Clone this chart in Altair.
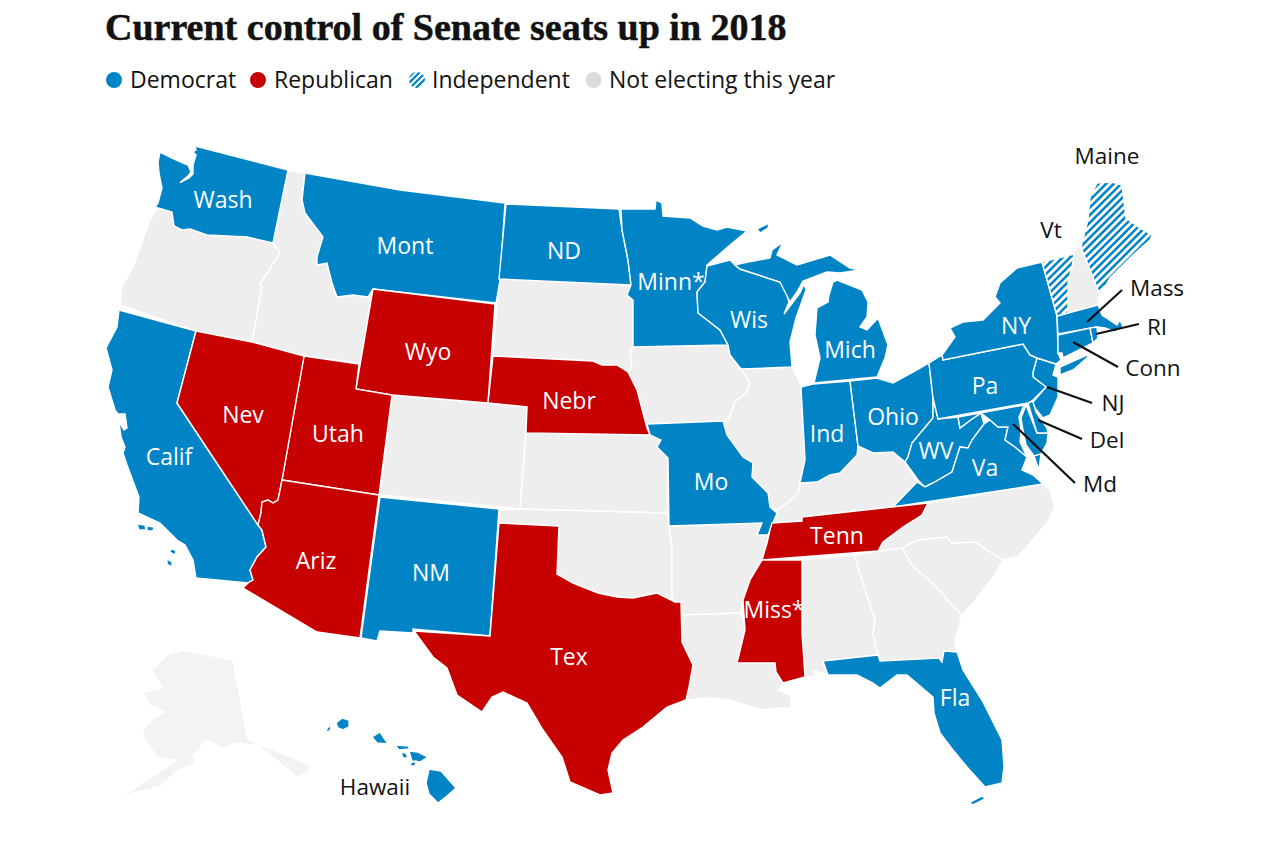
import math
import altair as alt

TITLE = "Current control of Senate seats up in 2018"
BLUE, RED, GREY, ALASKA = "#0084c6", "#c70000", "#eeeeee", "#f3f3f3"
INK = "#121212"

# State outlines (x, y)
WA = [[(195,146),(288,170),(273,243),(247,237),(227,236),(207,235),(190,229),(182,230),(174,226),(172,212),(158,208),(155,207),(158,203),(162,188),(159,173),(158,162),(160,152),(172,158),(183,163),(188,165),(191,172),(188,176),(180,182.5),(189,178),(193,174),(193,165),(196,155),(193,152),(196,150)]]
OR = [[(157,208),(172,212),(174,226),(182,230),(190,229),(207,235),(227,236),(247,237),(273,243),(280,253),(260,284),(262,287),(252,342),(195,331),(120,305),(122,287),(133,267),(150,220)]]
ID = [[(288,170),(305,173),(302,200),(305,213),(323,237),(317,257),(317,265),(327,263),(332,283),(337,297),(353,295),(368,297),(373,289),(360,363),(304,356),(252,342),(262,287),(260,284),(280,253),(273,243)]]
MT = [[(305,173),(400,190),(505,203),(500,280),(496,303),(373,289),(368,297),(353,295),(337,297),(332,283),(327,263),(317,265),(317,257),(323,237),(305,213),(302,200)]]
WY = [[(373,289),(495,304),(488,403),(392,395),(356,389)]]
UT = [[(304,356),(359,364),(356,389),(392,395),(379,495),(282,480)]]
NV = [[(196,331),(252,342),(304,356),(282,480),(278,500),(273,503),(268,500),(262,502),(261,513),(258,525),(177,403)]]
CA = [[(119,310),(196,331),(177,403),(258,525),(262,530),(266,547),(257,557),(250,570),(253,580),(248,583),(196,578),(193,560),(185,545),(177,540),(160,523),(138,513),(139,497),(127,465),(123,453),(125,447),(121,437),(119,422),(124,430),(127,428),(125,414),(118,414),(115,410),(108,387),(112,370),(106,348),(117,327)],
      [(137,524),(145,525),(146,530),(139,530)],[(147,526),(154,527),(153,531),(147,531)],[(171,548),(176,551),(175,555),(170,552)],[(167,559),(172,562),(172,567),(167,564)]]
AZ = [[(282,480),(379,495),(360,638),(317,632),(243,588),(248,583),(253,580),(250,570),(257,557),(266,547),(262,530),(258,525),(261,513),(262,502),(268,500),(273,503),(278,500)]]
NM = [[(380,497),(499,509),(490,636),(413,629),(413,633),(380,631),(377,641),(361,638)]]
CO = [[(392,395),(488,403),(527,407),(526,433),(520,509),(380,495)]]
TX = [[(499,523),(559,526),(557,574),(573,583),(598,593),(617,597),(633,598),(657,593),(675,602),(681,602),(682,642),(693,665),(689,687),(686,700),(667,707),(643,727),(623,740),(612,753),(608,770),(613,793),(600,795),(570,782),(562,757),(543,730),(527,703),(503,692),(492,697),(482,712),(457,695),(447,668),(433,657),(414,631),(490,636)]]
NE = [[(493,356),(593,361),(602,365),(617,365),(628,372),(637,390),(647,428),(650,435),(526,433),(527,407),(488,403)]]
ND = [[(506,204),(619,209),(622,230),(628,260),(631,285),(499,279)]]
SD = [[(499,279),(631,285),(627,295),(633,300),(633,347),(630,350),(632,367),(628,372),(617,365),(602,365),(593,361),(493,356)]]
MN = [[(621,209),(655,209),(656,200),(662,203),(663,216),(690,218),(703,226),(717,230),(727,227),(747,231),(730,245),(707,265),(705,282),(697,292),(698,313),(720,330),(728,345),(633,347),(633,300),(627,295),(631,285),(628,260),(622,230)],
      [(757,229),(769,223),(768,228),(760,233)]]
WI = [[(707,266),(730,260),(735,265),(740,269),(780,282),(787,295),(789,302),(784,314),(800,293),(804,284),(806,290),(796,318),(790,342),(792,367),(741,369),(730,355),(728,345),(720,330),(698,313),(697,292),(705,282)]]
MI = [[(735,265),(743,263),(770,258),(772,250),(783,242),(777,255),(797,265),(830,255),(850,268),(860,270),(840,273),(827,272),(803,281),(797,292),(790,302),(780,282),(740,269)],
      [(837,280),(862,290),(868,302),(867,317),(860,327),(867,330),(878,318),(888,345),(885,358),(877,377),(814,383),(820,358),(815,335),(817,308),(828,302),(829,295),(833,282)]]
IN = [[(801,387),(813,384),(850,381),(858,446),(857,455),(840,473),(830,475),(817,482),(800,483),(805,460)]]
OH = [[(850,381),(877,378),(893,383),(917,370),(929,363),(933,398),(933,418),(917,437),(912,443),(908,457),(905,462),(893,452),(873,453),(858,446)]]
WV = [[(933,398),(938,419),(958,417),(960,428),(972,419),(981,413),(984,424),(972,440),(968,448),(960,447),(952,472),(933,483),(925,487),(918,480),(905,462),(908,457),(912,443),(917,437),(933,418)]]
VA = [[(893,507),(917,482),(925,487),(933,483),(952,472),(960,447),(968,448),(972,440),(984,424),(990,420),(998,427),(1008,427),(1005,440),(1015,447),(1027,457),(1022,470),(1033,475),(1043,484)],
      [(1047,444),(1041,454),(1039,470),(1034,456)]]
MD = [[(958,417),(1024,405),(1019,417),(1021,430),(1020,442),(1027,457),(1015,447),(1005,440),(1008,427),(998,427),(990,420),(981,413),(972,419),(960,428)],
      [(1026,405),(1037,433),(1048,433),(1047,443),(1041,454),(1034,456),(1026,445),(1023,430),(1021,418)]]
DE = [[(1028,403),(1033,401),(1036,412),(1047,428),(1048,433),(1037,433)]]
NJ = [[(1037,358),(1056,364),(1053,375),(1058,377),(1058,397),(1050,415),(1043,418),(1035,408),(1033,402),(1046,387),(1033,377),(1033,372)]]
PA = [[(929,363),(942,355),(943,360),(1023,344),(1030,355),(1037,358),(1033,372),(1033,377),(1046,387),(1033,400),(1028,403),(938,419),(933,398)]]
NY = [[(1042,262),(1057,316),(1058,353),(1061,360),(1056,364),(1037,358),(1030,355),(1023,344),(943,360),(942,355),(955,337),(950,328),(963,322),(983,320),(1000,303),(995,297),(1000,283),(1017,268)],
      [(1060,367),(1087,355),(1088,357),(1073,370),(1060,375)]]
VT = [[(1042,262),(1074,254),(1073,262),(1068,283),(1068,313),(1057,316)]]
NH = [[(1077,246),(1082,247),(1100,295),(1098,305),(1068,313),(1068,283),(1073,262),(1074,254)]]
ME = [[(1097,183),(1112,182),(1122,185),(1126,218),(1140,228),(1152,235),(1150,240),(1133,255),(1120,268),(1110,278),(1100,295),(1081,247),(1088,220),(1090,198)]]
MA = [[(1057,316),(1068,313),(1098,305),(1102,315),(1117,325),(1120,320),(1123,327),(1115,332),(1105,328),(1097,327),(1058,334)]]
CT = [[(1058,335),(1090,328),(1093,343),(1063,358),(1062,353),(1058,353)]]
RI = [[(1090,328),(1097,327),(1098,338),(1093,343)]]
KY = [[(858,446),(873,453),(893,452),(905,462),(917,482),(893,507),(802,517),(802,521),(772,523),(777,510),(787,503),(798,493),(800,483),(817,482),(830,475),(840,473),(857,455)]]
TN = [[(772,523),(802,521),(802,517),(928,503),(922,515),(903,527),(883,542),(878,551),(762,560),(767,543),(770,530)]]
MO = [[(647,424),(723,421),(727,435),(743,457),(753,463),(752,477),(768,493),(770,507),(777,513),(768,535),(757,535),(762,523),(669,526),(668,458),(657,447),(661,440),(650,435)]]
KS = [[(526,433),(650,435),(661,440),(657,447),(668,458),(667,513),(520,509)]]
OK = [[(500,510),(520,509),(667,513),(672,548),(672,600),(657,593),(633,598),(617,597),(598,593),(573,583),(557,574),(559,526),(499,523)]]
AR = [[(669,526),(762,523),(757,535),(768,535),(767,543),(762,560),(750,580),(743,600),(741,613),(682,615),(681,602),(672,600),(672,548)]]
LA = [[(682,615),(741,613),(745,627),(737,662),(775,663),(776,672),(783,683),(778,690),(790,695),(792,708),(775,708),(763,710),(745,705),(730,700),(710,698),(686,700),(689,687),(693,665),(682,642)]]
MS = [[(762,560),(802,560),(802,633),(805,677),(783,683),(776,672),(775,663),(737,663),(745,630),(743,600),(750,580)]]
AL = [[(802,560),(854,555),(875,620),(873,633),(878,655),(823,661),(827,675),(813,670),(815,677),(805,677),(802,633)]]
GA = [[(854,555),(878,551),(902,548),(912,565),(937,587),(950,603),(962,615),(955,640),(957,652),(944,651),(942,662),(880,661),(878,655),(873,633),(875,620)]]
FL = [[(823,661),(878,655),(880,661),(939,658),(942,662),(944,651),(957,652),(963,670),(983,702),(1002,740),(1004,767),(1002,783),(985,787),(967,767),(953,750),(940,733),(934,713),(933,697),(907,675),(897,675),(880,688),(873,683),(857,675),(828,675)],
      [(969,803),(982,796),(985,799),(973,805)]]
SC = [[(902,548),(917,540),(947,537),(952,543),(975,542),(1003,560),(993,577),(973,603),(962,615),(950,603),(937,587),(912,565)]]
NC = [[(928,503),(1043,484),(1050,490),(1055,507),(1047,523),(1030,543),(1017,557),(1003,560),(975,542),(952,543),(947,537),(917,540),(902,548),(878,551),(883,542),(903,527),(922,515)]]
IA = [[(633,347),(728,345),(730,355),(741,369),(750,382),(747,392),(735,402),(728,422),(723,421),(647,424),(637,390),(628,372),(632,367),(630,350)]]
IL = [[(741,369),(792,367),(802,387),(805,460),(800,483),(798,493),(787,503),(777,510),(770,507),(768,493),(752,477),(753,463),(743,457),(727,435),(723,421),(728,422),(735,402),(747,392),(750,382)]]
AK = [[(183,650),(233,660),(248,740),(267,747),(310,765),(308,773),(297,777),(280,763),(257,745),(237,743),(223,748),(207,740),(193,755),(197,763),(178,770),(160,787),(133,793),(113,802),(155,775),(177,760),(158,758),(143,737),(143,730),(153,718),(165,712),(150,705),(143,692),(163,688),(152,670),(167,655)]]
HI = [[(429,769),(441,771),(456,788),(447,796),(438,803),(429,794),(426,783)],[(409,751),(418,752),(428,757),(420,762),(412,761)],[(372,737),(380,732),(388,744),(377,743)],[(336,723),(342,718),(349,720),(349,727),(343,730),(338,728)],[(326,730),(330,725),(331,729),(328,732)],[(395,745),(409,746),(409,749),(399,750)],[(401,752),(406,753),(408,758),(403,758)],[(410,763),(416,761),(415,766),(411,766)]]

DEM = dict(WA=WA, CA=CA, MT=MT, ND=ND, MN=MN, WI=WI, MI=MI, IN=IN, OH=OH, WV=WV, VA=VA, MD=MD, DE=DE, NJ=NJ, PA=PA, NY=NY, MA=MA, CT=CT, RI=RI, MO=MO, NM=NM, FL=FL, HI=HI)
REP = dict(WY=WY, UT=UT, NV=NV, AZ=AZ, TX=TX, NE=NE, TN=TN, MS=MS)
IND = dict(VT=VT, ME=ME)
NOT = dict(OR=OR, ID=ID, CO=CO, SD=SD, NH=NH, KY=KY, KS=KS, OK=OK, AR=AR, LA=LA, AL=AL, GA=GA, SC=SC, NC=NC, IA=IA, IL=IL)

WHITE_LABELS = [("Wash",223,201),("Mont",405,247),("ND",564,252),("Minn*",671,283),("Wis",749,321),("Mich",850,351),("NY",1016,327),("Pa",985,387),("Ohio",893,418),("Ind",827,435),("WV",936,452),("Va",985,469),("Wyo",428,353),("Nebr",569,402),("Nev",243,416),("Utah",338,435),("Calif",169,458),("Mo",711,483),("Tenn",837,537),("Ariz",316,562),("NM",431,574),("Miss*",774,611),("Tex",569,658),("Fla",955,699)]
DARK_LABELS = [("Maine",1107,157),("Vt",1051,231),("Mass",1157,289),("RI",1157,328),("Conn",1153,369),("NJ",1113,404),("Del",1107,441),("Md",1100,485),("Hawaii",375,788)]
LEADERS = [[(1122,290),(1087,322)],[(1139,324),(1096,334)],[(1073,342),(1118,367)],[(1047,387),(1092,403)],[(1038,420),(1082,439)],[(1013,424),(1075,483)]]
LEGEND_NAMES = ["Democrat","Republican","Independent","Not electing this year"]
LEGEND_DOT_X = [114,258,417,593.5]
LEGEND_TEXT_X = [130,274,432,609]
LEGEND_COLORS = [BLUE,RED,BLUE,"#dcdcdc"]
LEGEND_Y = 80


def feat(rings, group):
    return {"type":"Feature","properties":{"group":group},
            "geometry":{"type":"MultiPolygon","coordinates":[[[list(p) for p in r]+[list(r[0])]] for r in rings]}}


def stripes(rings, step):
    """Clip '/' hatch lines to the rings."""
    out = []
    for r in rings:
        sums = [x+y for x,y in r]
        c = math.floor(min(sums)/step)*step + step/2
        while c < max(sums):
            hits = []
            for (x1,y1),(x2,y2) in zip(r, r[1:]+r[:1]):
                a, b = x1+y1-c, x2+y2-c
                if (a < 0) != (b < 0):
                    t = a/(a-b)
                    hits.append(x1+t*(x2-x1))
            hits.sort()
            for i in range(0, len(hits)-1, 2):
                out.append([[hits[i],c-hits[i]],[hits[i+1],c-hits[i+1]]])
            c += step
    return out


def geo(features):
    return alt.InlineData(values={"type":"FeatureCollection","features":features},
                          format=alt.DataFormat(property="features", type="json"))

PROJ = dict(type="identity", scale=1, translate=[-8,-8])
features = []
for group, members in [("not",NOT),("dem",DEM),("rep",REP),("ind",IND)]:
    features += [feat(rings, group) for rings in members.values()]
features.append(feat(AK, "alaska"))

states = alt.Chart(geo(features)).mark_geoshape(stroke="white", strokeWidth=1.4).encode(
    color=alt.Color("properties.group:N", legend=None,
                    scale=alt.Scale(domain=["not","dem","rep","ind","alaska"], range=[GREY,BLUE,RED,BLUE,ALASKA]))
).project(**PROJ)


def lines_layer(segments, color, width):
    feats = [{"type":"Feature","properties":{},"geometry":{"type":"LineString","coordinates":s}} for s in segments]
    return alt.Chart(geo(feats)).mark_geoshape(filled=False, stroke=color, strokeWidth=width).project(**PROJ)

hatch = lines_layer(stripes(VT,7.5)+stripes(ME,7.5), "white", 2.8)
leaders = lines_layer([[list(a),list(b)] for a,b in LEADERS], INK, 2.2)

legend_rows = [{"x":x,"y":LEGEND_Y,"c":c} for x,c in zip(LEGEND_DOT_X,LEGEND_COLORS)]
dots = alt.Chart(alt.Data(values=legend_rows)).mark_circle(size=254, opacity=1).encode(
    longitude="x:Q", latitude="y:Q", color=alt.Color("c:N", scale=None)).project(**PROJ)
circle = [[(LEGEND_DOT_X[2]+9*math.cos(i/24*math.tau), LEGEND_Y+9*math.sin(i/24*math.tau)) for i in range(24)]]
dot_hatch = lines_layer(stripes(circle,6), "white", 2)


def text_layer(rows, color, size, font="Open Sans", **kw):
    return alt.Chart(alt.Data(values=[{"t":t,"x":x,"y":y} for t,x,y in rows])).mark_text(
        font=font, fontSize=size, color=color, **kw).encode(
        longitude="x:Q", latitude="y:Q", text="t:N").project(**PROJ)

white = text_layer(WHITE_LABELS, "white", 23, baseline="middle", align="center")
dark = text_layer(DARK_LABELS, INK, 22.5, baseline="middle", align="center")
legend_text = text_layer([(n,x,LEGEND_Y+1) for n,x in zip(LEGEND_NAMES,LEGEND_TEXT_X)], INK, 23, baseline="middle", align="left")
title = text_layer([(TITLE,105,40)], INK, 38, font="Liberation Serif", baseline="alphabetic", align="left",
                   fontWeight="bold", stroke=INK, strokeWidth=0.5)

chart = alt.layer(states, hatch, leaders, white, dark, dots, dot_hatch, legend_text, title).properties(
    width=1264, height=832, padding=0, autosize="none").configure_view(stroke=None)

chart.save("out.html", embed_options={"renderer": "svg", "actions": False})
